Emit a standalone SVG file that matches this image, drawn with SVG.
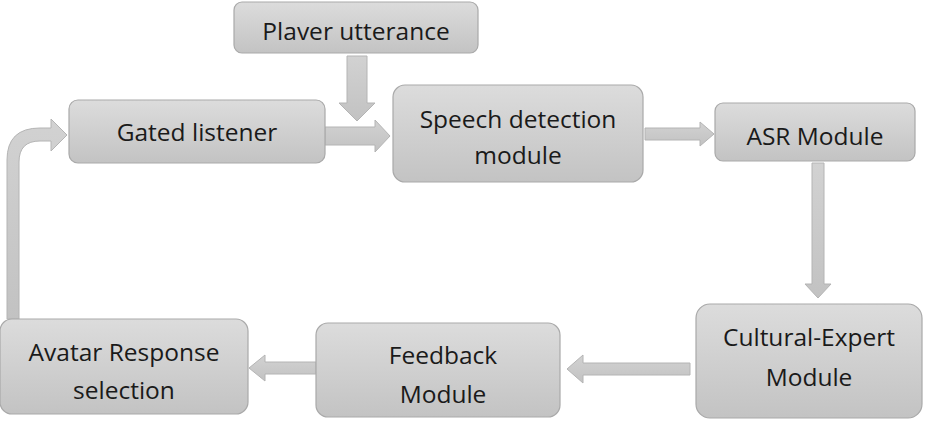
<svg xmlns="http://www.w3.org/2000/svg" width="925" height="422" viewBox="0 0 925 422">
<defs>
<linearGradient id="boxg" x1="0" y1="0" x2="0" y2="1">
<stop offset="0" stop-color="#dcdcdc"/>
<stop offset="1" stop-color="#c3c3c3"/>
</linearGradient>
<linearGradient id="arrg" x1="0" y1="0" x2="0" y2="1">
<stop offset="0" stop-color="#d2d2d2"/>
<stop offset="1" stop-color="#c2c2c2"/>
</linearGradient>
</defs>
<style>
.box{fill:url(#boxg);stroke:#a9a9a9;stroke-width:1.2}
.arr{fill:url(#arrg);stroke:#b4b4b4;stroke-width:1}
.t{font-family:"Open Sans","Liberation Sans",sans-serif;font-size:24.5px;fill:#1a1a1a;text-anchor:middle}
</style>
<rect width="925" height="422" fill="#ffffff"/>
<g id="connectors">
<path class="arr" d="M347,56 H367 V103 H375 L357,121 L339,103 H347 Z"/>
<path class="arr" d="M325,127 H375 V120 L390,136 L375,152 V145 H325 Z"/>
<path class="arr" d="M645,128 H700 V122 L714,134 L700,146 V140 H645 Z"/>
<path class="arr" d="M812,163 H824 V284 H831 L818,298 L805,284 H812 Z"/>
<path class="arr" d="M690,363 H583 V355 L567,369 L583,383 V375 H690 Z"/>
<path class="arr" d="M316,362 H265 V355 L249,368 L265,381 V374 H316 Z"/>
<path class="arr" d="M7,319 V160 Q7,128 40,128 H51 V119 L67,135 L51,151 V141 H40 Q19,141 19,162 V319 Z"/>
</g>
<g id="player-utterance">
<rect class="box" x="234" y="2" width="244" height="51" rx="8"/>
<text class="t" x="356" y="40">Plaver utterance</text>
</g>
<g id="gated-listener">
<rect class="box" x="69" y="100" width="256" height="63" rx="9"/>
<text class="t" x="197" y="141">Gated listener</text>
</g>
<g id="speech-detection">
<rect class="box" x="393" y="85" width="250" height="97" rx="12"/>
<text class="t" x="518" y="128">Speech detection</text>
<text class="t" x="518" y="164">module</text>
</g>
<g id="asr-module">
<rect class="box" x="715" y="103" width="200" height="58" rx="8"/>
<text class="t" x="815" y="145">ASR Module</text>
</g>
<g id="cultural-expert">
<rect class="box" x="696" y="304" width="226" height="114" rx="14"/>
<text class="t" x="809" y="346">Cultural-Expert</text>
<text class="t" x="809" y="386">Module</text>
</g>
<g id="feedback-module">
<rect class="box" x="316" y="323" width="244" height="94" rx="12"/>
<text class="t" x="443" y="364">Feedback</text>
<text class="t" x="443" y="403">Module</text>
</g>
<g id="avatar-response">
<rect class="box" x="0" y="319" width="248" height="95" rx="12"/>
<text class="t" x="124" y="361">Avatar Response</text>
<text class="t" x="124" y="399">selection</text>
</g>
</svg>
